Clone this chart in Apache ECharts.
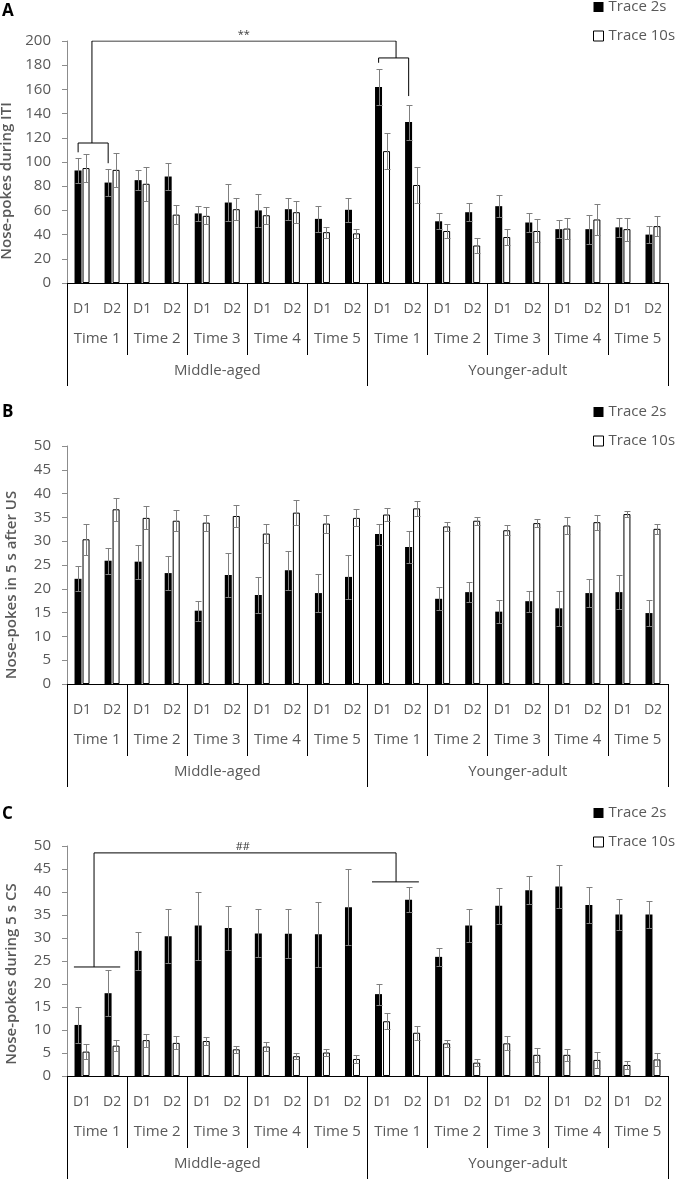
<!DOCTYPE html>
<html><head><meta charset="utf-8">
<script src="https://cdn.jsdelivr.net/npm/echarts@6/dist/echarts.min.js"></script>
<style>html,body{margin:0;padding:0;background:#fff}#c{width:678px;height:1179px}</style>
</head><body><div id="c"></div>
<script>
// ---------- categories / labels ----------
const dayLabels = ['D1','D2','D1','D2','D1','D2','D1','D2','D1','D2','D1','D2','D1','D2','D1','D2','D1','D2','D1','D2'];
const timeLabels = ['Time 1','Time 2','Time 3','Time 4','Time 5','Time 1','Time 2','Time 3','Time 4','Time 5'];
const groupLabels = ['Middle-aged','Younger-adult'];
const seriesNames = ['Trace 2s','Trace 10s'];
const panelLetters = ['A','B','C'];
const yTitles = ['Nose-pokes during ITI','Nose-pokes in 5 s after US','Nose-pokes during 5 s CS'];
const yMaxes = [200, 50, 50];
const yIntervals = [20, 5, 5];

// ---------- Panel A: ITI ----------
const itiTrace2s     = [93, 83, 85, 88, 57.5, 66.5, 60, 61, 53, 60.5, 162, 133, 51, 58.5, 63.5, 50, 44.5, 44.5, 46, 40];
const itiTrace2sErr  = [10, 11, 8.5, 11, 6, 15, 13.5, 9, 11, 10, 15, 14.5, 6.5, 7.5, 9, 8, 7.5, 12, 8, 7];
const itiTrace10s    = [95, 93.5, 82, 56.5, 55.5, 61, 56, 58.5, 42, 41, 109, 81, 43, 31, 38, 43, 45, 52.5, 44.5, 47];
const itiTrace10sErr = [11.5, 14, 14, 8, 7, 9, 7, 9, 4.5, 4, 15, 15, 6, 6, 7, 9.5, 9, 13, 9.5, 8];

// ---------- Panel B: 5 s after US ----------
const usTrace2s      = [22.1, 25.9, 25.7, 23.3, 15.4, 22.9, 18.7, 23.9, 19.1, 22.5, 31.5, 28.8, 17.9, 19.3, 15.2, 17.4, 15.9, 19.1, 19.3, 14.9];
const usTrace2sErr   = [2.6, 2.7, 3.6, 3.6, 2.1, 4.6, 3.8, 4.1, 4, 4.6, 2.2, 3.3, 2.4, 2.1, 2.4, 2.2, 3.7, 3, 3.6, 2.8];
const usTrace10s     = [30.4, 36.7, 34.9, 34.3, 33.9, 35.3, 31.6, 36, 33.7, 34.9, 35.6, 36.9, 33.1, 34.3, 32.3, 33.8, 33.3, 34, 35.7, 32.6];
const usTrace10sErr  = [3.3, 2.4, 2.4, 2.2, 1.7, 2.4, 2, 2.7, 1.9, 1.8, 1.3, 1.6, 1, 0.8, 1, 0.8, 1.8, 1.6, 0.6, 1];

// ---------- Panel C: 5 s CS ----------
const csTrace2s      = [11.1, 18, 27.2, 30.4, 32.7, 32.2, 31, 30.9, 30.8, 36.7, 17.8, 38.3, 25.9, 32.7, 37, 40.4, 41.2, 37.2, 35.1, 35.1];
const csTrace2sErr   = [3.9, 5, 4.2, 5.8, 7.4, 4.8, 5.2, 5.3, 7, 8.2, 2.3, 2.7, 2, 3.5, 3.9, 3, 4.6, 3.9, 3.3, 3];
const csTrace10s     = [5.3, 6.6, 7.8, 7.2, 7.6, 5.8, 6.4, 4.3, 5.1, 3.7, 11.9, 9.4, 7.1, 2.9, 7.1, 4.6, 4.6, 3.5, 2.4, 3.6];
const csTrace10sErr  = [1.6, 1.2, 1.4, 1.4, 0.8, 0.8, 1, 0.6, 0.8, 0.8, 1.7, 1.5, 0.7, 0.7, 1.5, 1.5, 1.3, 1.8, 0.8, 1.5];

// ---------- significance annotations (x in category units 0..20, y in data units) ----------
const sigAPaths = [
  [[0.83, 115.7], [0.83, 200], [10.95, 200], [10.95, 186]],
  [[0.37, 108], [0.37, 115.7], [1.37, 115.7], [1.37, 99]],
  [[10.37, 182], [10.37, 186], [11.37, 186], [11.37, 154.5]]
];
const sigALabel = {text: '**', pos: [5.88, 200]};
const sigCPaths = [
  [[0.9, 23.7], [0.9, 48.5], [10.95, 48.5], [10.95, 42.2]],
  [[0.23, 23.7], [1.77, 23.7]],
  [[10.15, 42.2], [11.71, 42.2]]
];
const sigCLabel = {text: '##', pos: [5.85, 48.5]};

const panels = [
  {s2: itiTrace2s, e2: itiTrace2sErr, s10: itiTrace10s, e10: itiTrace10sErr, sig: sigAPaths, sigLabel: sigALabel},
  {s2: usTrace2s,  e2: usTrace2sErr,  s10: usTrace10s,  e10: usTrace10sErr,  sig: [], sigLabel: null},
  {s2: csTrace2s,  e2: csTrace2sErr,  s10: csTrace10s,  e10: csTrace10sErr,  sig: sigCPaths, sigLabel: sigCLabel}
];

// ---------- layout / style ----------
const FONT = 'Open Sans';
const GRAY = '#595959';
const ERR_COLOR = '#7f7f7f';
const BAR_W = 7, BAR_GAP_PX = 1, CAP = 3;
const GRIDS = [
  {left: 67, right: 10, top: 41,  bottom: 896},
  {left: 67, right: 10, top: 446, bottom: 495},
  {left: 67, right: 10, top: 846, bottom: 103}
];
const LEGEND_TOPS = [-1, 404, 805];
const LETTER_TOPS = [3, 404, 806];
const TITLE_SHIFT = [38, 40, 26]; // padding that moves each y title down (px*2)

function errorRenderer(side) {
  return function (params, api) {
    const idx = api.value(0), val = api.value(1), err = api.value(2);
    const off = side * (BAR_W + BAR_GAP_PX) / 2;
    const top = api.coord([idx, val + err]);
    const bot = api.coord([idx, Math.max(0, val - err)]);
    const x = Math.round(top[0] + off) + 0.5;
    const yt = Math.round(top[1]) + 0.5, yb = Math.round(bot[1]) + 0.5;
    const style = {stroke: ERR_COLOR, lineWidth: 1};
    return {type: 'group', children: [
      {type: 'line', shape: {x1: x, y1: yt, x2: x, y2: yb}, style},
      {type: 'line', shape: {x1: x - CAP, y1: yt, x2: x + CAP, y2: yt}, style},
      {type: 'line', shape: {x1: x - CAP, y1: yb, x2: x + CAP, y2: yb}, style}
    ]};
  };
}

const grid = [], xAxis = [], yAxis = [], series = [], legend = [], graphic = [];
const labelStyle = {color: GRAY, fontSize: 14, fontFamily: FONT};

panels.forEach((p, g) => {
  grid.push(Object.assign({outerBoundsMode: 'none', containLabel: false}, GRIDS[g]));
  const base = xAxis.length;
  xAxis.push(
    {type: 'category', gridIndex: g, data: dayLabels, position: 'bottom',
     axisLine: {show: true, lineStyle: {color: '#000', width: 1}},
     axisTick: {show: false},
     axisLabel: Object.assign({interval: 0, margin: 19}, labelStyle)},
    {type: 'category', gridIndex: g, data: timeLabels, position: 'bottom',
     axisLine: {show: false},
     axisTick: {show: true, interval: 0, length: 72, lineStyle: {color: '#000', width: 1}},
     axisLabel: Object.assign({interval: 0, margin: 48}, labelStyle, {fontSize: 15})},
    {type: 'category', gridIndex: g, data: groupLabels, position: 'bottom',
     axisLine: {show: false},
     axisTick: {show: true, interval: 0, length: 103, lineStyle: {color: '#000', width: 1}},
     axisLabel: Object.assign({interval: 0, margin: 80}, labelStyle, {fontSize: 15})},
    {type: 'value', gridIndex: g, min: 0, max: 20, show: false}
  );
  yAxis.push({
    type: 'value', gridIndex: g, min: 0, max: yMaxes[g], interval: yIntervals[g],
    axisLine: {show: true, lineStyle: {color: '#8c8c8c'}},
    axisTick: {show: true, length: 5, lineStyle: {color: '#8c8c8c'}},
    axisLabel: Object.assign({margin: 16}, labelStyle, {fontSize: 15}),
    splitLine: {show: false},
    name: yTitles[g], nameLocation: 'middle', nameGap: 48,
    nameTextStyle: {color: GRAY, fontSize: 15, fontWeight: 600, fontFamily: FONT,
                    padding: [0, TITLE_SHIFT[g], 0, 0]}
  });
  series.push(
    {type: 'bar', name: seriesNames[0], xAxisIndex: base, yAxisIndex: g, data: p.s2,
     barWidth: BAR_W, barGap: (BAR_GAP_PX / BAR_W * 100) + '%',
     itemStyle: {color: '#000'}, silent: true},
    {type: 'bar', name: seriesNames[1], xAxisIndex: base, yAxisIndex: g, data: p.s10,
     barWidth: BAR_W, barGap: (BAR_GAP_PX / BAR_W * 100) + '%',
     itemStyle: {color: '#fff', borderColor: '#000', borderWidth: 1}, silent: true},
    {type: 'custom', name: 'err2', xAxisIndex: base, yAxisIndex: g, z: 5, silent: true,
     data: p.s2.map((v, i) => [i, v, p.e2[i]]), encode: {x: 0, y: 1}, renderItem: errorRenderer(-1)},
    {type: 'custom', name: 'err10', xAxisIndex: base, yAxisIndex: g, z: 5, silent: true,
     data: p.s10.map((v, i) => [i, v, p.e10[i]]), encode: {x: 0, y: 1}, renderItem: errorRenderer(1)}
  );
  if (p.sig.length) {
    series.push({type: 'lines', name: 'sig', coordinateSystem: 'cartesian2d', xAxisIndex: base + 3, yAxisIndex: g,
      polyline: true, silent: true, z: 6,
      lineStyle: {color: '#000', width: 1, opacity: 1, curveness: 0},
      data: p.sig.map(path => ({coords: path}))});
  }
  if (p.sigLabel) {
    series.push({type: 'scatter', name: 'sigtext', xAxisIndex: base + 3, yAxisIndex: g, symbolSize: 0, silent: true, clip: false,
      data: [p.sigLabel.pos],
      label: {show: true, position: 'top', distance: 1, formatter: p.sigLabel.text, color: '#000', fontSize: 11, fontFamily: FONT}});
  }
  legend.push({
    orient: 'vertical', left: 593, top: LEGEND_TOPS[g], padding: 0, itemGap: 13,
    itemWidth: 10, itemHeight: 10, icon: 'rect', selectedMode: false,
    textStyle: {color: GRAY, fontSize: 15, fontFamily: FONT, lineHeight: 16},
    data: [
      {name: seriesNames[0], itemStyle: {color: '#000', borderWidth: 0}},
      {name: seriesNames[1], itemStyle: {color: '#fff', borderColor: '#000', borderWidth: 1}}
    ]
  });
  graphic.push({type: 'text', left: 2, top: LETTER_TOPS[g],
    style: {text: panelLetters[g], fill: '#000', font: 'bold 17px "Open Sans"'}});
});

const chart = echarts.init(document.getElementById('c'), null, {renderer: 'canvas'});
chart.setOption({animation: false, backgroundColor: '#fff', grid, xAxis, yAxis, series, legend, graphic});
</script></body></html>
